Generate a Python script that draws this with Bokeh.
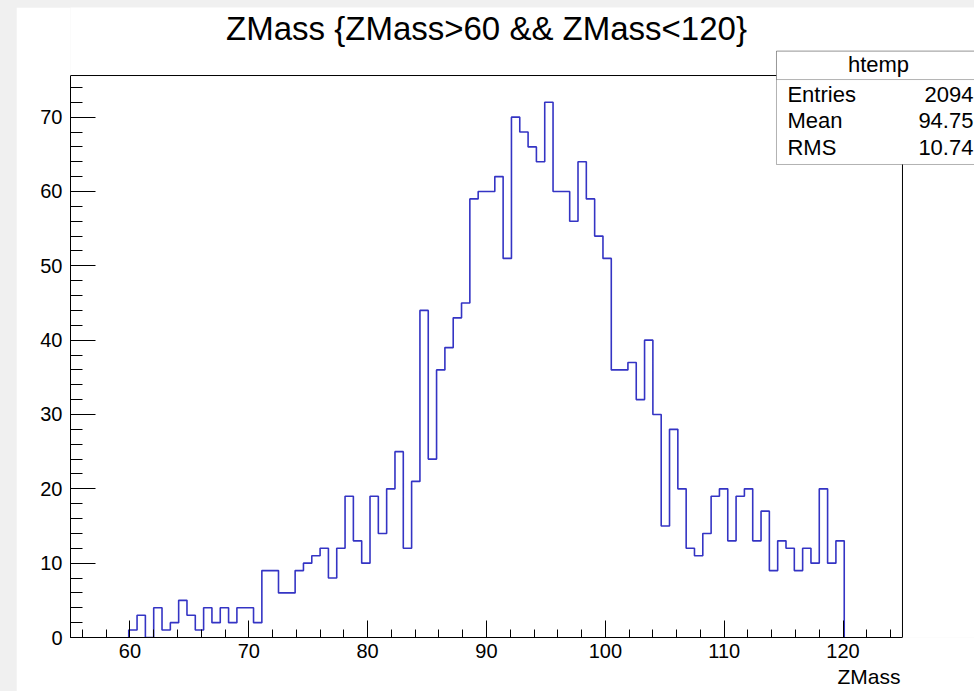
from bokeh.plotting import figure
from bokeh.models import Label, BoxAnnotation, SingleIntervalTicker, Range1d, Title
from bokeh.embed import file_html
from bokeh.resources import INLINE

# ---- histogram definition (ROOT auto-binning: 100 bins on [55, 125]) ----
x_min = 55.0
x_max = 125.0
n_bins = 100
first_filled_bin = 7          # bins before this one are empty
counts = [1, 3, 0, 4, 1, 2, 5, 3, 1, 4, 2, 4, 2, 4, 4, 2, 9, 9, 6, 6, 9, 10, 11, 12,
          8, 12, 19, 13, 10, 19, 14, 20, 25, 12, 21, 44, 24, 36, 39, 43, 45,
          59, 60, 60, 62, 51, 70, 68, 66, 64, 72, 60, 60, 56, 64, 59, 54, 51,
          36, 36, 37, 32, 40, 30,
          15, 28, 20, 12, 11, 14, 19, 20, 13, 19, 20, 13, 17, 9, 13, 12, 9, 12,
          10, 20, 10, 13]
y_max = 75.6                  # ROOT frame top (1.05 * max)

title_text = "ZMass {ZMass>60 && ZMass<120}"
x_title = "ZMass"
stats_name = "htemp"
stats_labels = ["Entries", "Mean", "RMS"]
stats_values = ["2094", "94.75", "10.74"]

FONT = "Liberation Sans"
LINE_COLOR = "#3434c4"

# view extends beyond the ROOT frame so that the title and stats box can be drawn
view_x_end = 131.06
view_y_end = 84.75

# ---- outline path of the histogram ----
bw = (x_max - x_min) / n_bins
xs, ys = [], []
left = x_min + first_filled_bin * bw
xs.append(left); ys.append(0)
for i, c in enumerate(counts):
    l = x_min + (first_filled_bin + i) * bw
    r = l + bw
    xs += [l, r]
    ys += [c, c]
xs.append(r); ys.append(0)

p = figure(frame_width=904, frame_height=630, title=None,
           x_range=Range1d(x_min, view_x_end), y_range=Range1d(0, view_y_end),
           output_backend="svg", toolbar_location=None,
           min_border_left=54, min_border_right=0,
           min_border_top=0, min_border_bottom=54)
p.margin = (7, 0, 0, 16)
p.grid.visible = False
p.outline_line_color = None
p.background_fill_color = "white"
p.border_fill_color = "white"

# ROOT frame top and right edges
p.line([x_min, x_max, x_max], [y_max, y_max, 0], line_color="black", line_width=1)

# histogram
p.line(xs, ys, line_color=LINE_COLOR, line_width=1.6)

# axes ROOT-style: ticks inside, limited to the frame
for ax, maj, mnr, bnds in ((p.xaxis[0], 17, 8, (x_min, x_max)),
                           (p.yaxis[0], 25, 12, (0, y_max))):
    ax.ticker = SingleIntervalTicker(interval=10, num_minor_ticks=5)
    ax.bounds = bnds
    ax.major_tick_in = maj
    ax.major_tick_out = 0
    ax.minor_tick_in = mnr
    ax.minor_tick_out = 0
    ax.axis_line_color = "black"
    ax.major_tick_line_color = "black"
    ax.minor_tick_line_color = "black"
    ax.major_label_text_font = FONT
    ax.major_label_text_font_size = "20px"
    ax.major_label_text_color = "black"
p.xaxis.major_label_standoff = 6
p.yaxis.major_label_standoff = 8

# x-axis title, right-aligned under the frame's right end
p.add_layout(Title(text=x_title, align="right", offset=74, standoff=4,
                   text_font=FONT, text_font_size="21px",
                   text_font_style="normal", text_color="black"), "below")

# main title
p.add_layout(Label(x=90.0, y=81.9, text=title_text, text_align="center",
                   text_baseline="middle", text_font=FONT,
                   text_font_size="33px", text_color="black"))

# stats box
p.add_layout(BoxAnnotation(left=114.40, right=132.0, top=78.87, bottom=63.63,
                           fill_color="white", fill_alpha=1.0,
                           line_color="black", line_width=1, level="overlay"))
p.add_layout(BoxAnnotation(left=114.40, right=132.0, top=78.87, bottom=75.06,
                           fill_color="white", fill_alpha=1.0,
                           line_color="black", line_width=1, level="overlay"))
p.add_layout(Label(x=122.98, y=77.1, text=stats_name, text_align="center",
                   text_baseline="middle", text_font=FONT,
                   text_font_size="22px", text_color="black", level="overlay"))
row_y = [73.1, 69.55, 65.9]
for lab, val, yy in zip(stats_labels, stats_values, row_y):
    p.add_layout(Label(x=115.32, y=yy, text=lab, text_align="left",
                       text_baseline="middle", text_font=FONT,
                       text_font_size="22px", text_color="black", level="overlay"))
    p.add_layout(Label(x=130.97, y=yy, text=val, text_align="right",
                       text_baseline="middle", text_font=FONT,
                       text_font_size="22px", text_color="black", level="overlay"))

html = file_html(p, INLINE)
html = html.replace("</head>",
                    "<style>html, body { background-color: #f0f0f0; }</style></head>", 1)
open("out.html", "w").write(html)
